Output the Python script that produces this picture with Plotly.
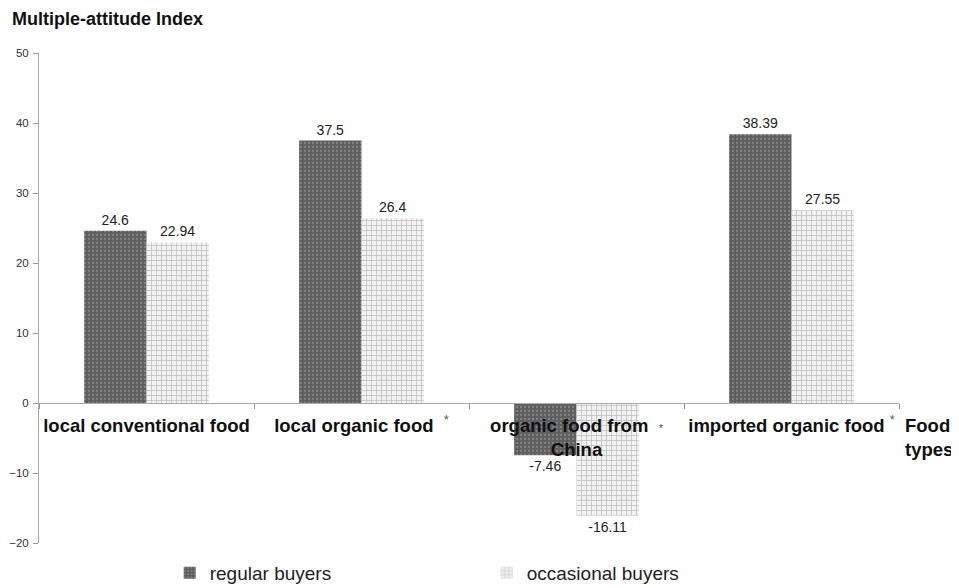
import plotly.graph_objects as go

categories = ["local conventional food", "local organic food", "organic food from China", "imported organic food"]
tick_labels = [
    "local conventional food",
    "local organic food  <sup><span style='font-weight:normal;color:#555'>*</span></sup>",
    "organic food from  <span style='font-weight:normal;font-size:11px;color:#555'>*</span><br>China",
    "imported organic food <sup><span style='font-weight:normal;color:#555'>*</span></sup>",
]
regular = [24.6, 37.5, -7.46, 38.39]
occasional = [22.94, 26.4, -16.11, 27.55]
regular_text = ["24.6", "37.5", "-7.46", "38.39"]
occasional_text = ["22.94", "26.4", "-16.11", "27.55"]

FONT = "Liberation Sans, Arial, sans-serif"

fig = go.Figure()
fig.add_trace(go.Bar(
    x=categories, y=regular, name="regular buyers",
    text=regular_text, textposition="outside", cliponaxis=False,
    textfont=dict(size=14, color="#222"),
    marker=dict(
        color="#5e5e5e",
        line=dict(width=0),
        pattern=dict(shape=".", fgcolor="#a5a5a5", bgcolor="#5e5e5e", size=4, solidity=0.25),
    ),
))
fig.add_trace(go.Bar(
    x=categories, y=occasional, name="occasional buyers",
    text=occasional_text, textposition="outside", cliponaxis=False,
    textfont=dict(size=14, color="#222"),
    marker=dict(
        color="#ffffff",
        line=dict(width=0),
        pattern=dict(shape="+", fgcolor="#8f8f8f", bgcolor="#f2f2f2", size=5, solidity=0.3),
    ),
))

# the page body adds an 8px offset, so the margins are shifted by -8px
fig.update_layout(
    width=959, height=588,
    margin=dict(l=31, r=68, t=45, b=53, autoexpand=False),
    paper_bgcolor="white", plot_bgcolor="white",
    font=dict(family=FONT, color="#222"),
    barmode="group", bargap=0.42, bargroupgap=0,
    title=dict(text="<b>Multiple-attitude Index</b>", x=4/959, xanchor="left",
               y=1-11/588, yanchor="middle", font=dict(size=18, color="#111")),
    showlegend=True,
    legend=dict(orientation="h", x=0.152, xanchor="left", y=-0.022, yanchor="top",
                font=dict(size=19, color="#222"), entrywidth=272, itemwidth=30,
                bgcolor="rgba(0,0,0,0)"),
    xaxis=dict(
        type="category", tickmode="array", tickvals=categories, ticktext=tick_labels,
        tickson="boundaries", ticks="outside", ticklen=5, tickcolor="#999",
        showline=True, linecolor="#aaa", linewidth=1,
        anchor="free", position=20/70, showgrid=False, automargin=False,
        ticklabelstandoff=6,
        tickfont=dict(size=18.5, color="#111", family=FONT, weight="bold"), tickangle=0,
        range=[-0.5, 3.5],
    ),
    yaxis=dict(
        range=[-20, 50], dtick=10, tick0=0, showgrid=False, zeroline=False,
        showline=True, linecolor="#aaa", linewidth=1, automargin=False,
        ticks="outside", ticklen=5, tickcolor="#999", ticklabelstandoff=2,
        tickfont=dict(size=11.5, color="#333"),
    ),
)

fig.add_annotation(text="<b>Food<br>types</b>", xref="paper", x=1, xanchor="left", xshift=4,
                   yref="y", y=0, yanchor="top", yshift=-10, showarrow=False, align="left",
                   font=dict(size=18.5, color="#111"))

fig.write_html("out.html")
